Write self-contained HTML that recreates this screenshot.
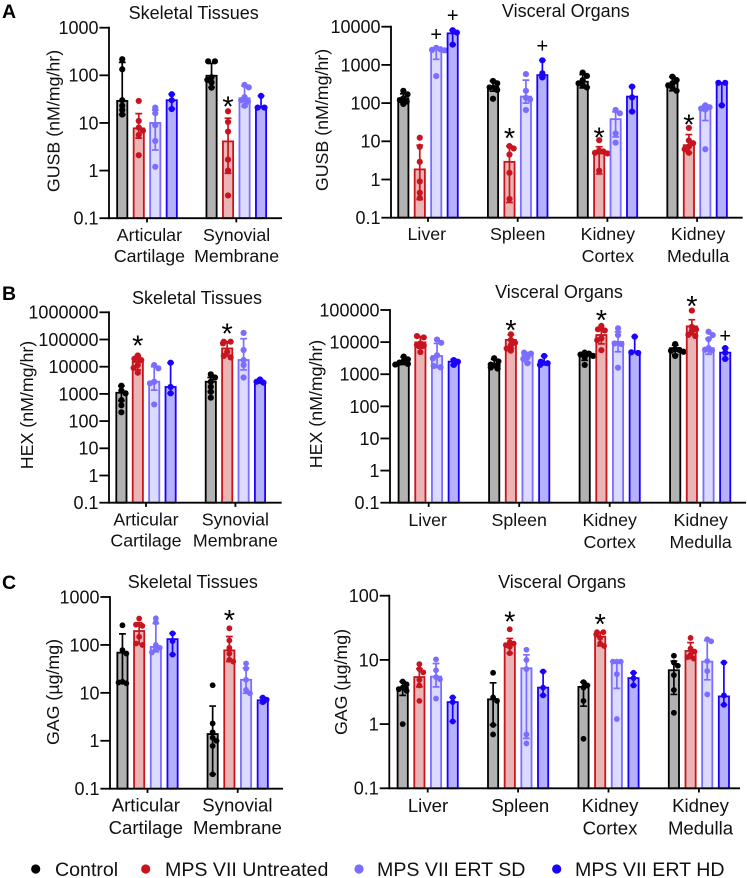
<!DOCTYPE html>
<html lang="en">
<head>
<meta charset="utf-8">
<title>GUSB, HEX and GAG levels by tissue</title>
<style>
html,body{margin:0;padding:0;background:#fff;}
svg{display:block;font-family:"Liberation Sans",Arial,sans-serif;fill:#111;}
</style>
</head>
<body>
<svg id="figure" width="747" height="878" viewBox="0 0 747 878" xmlns="http://www.w3.org/2000/svg">
  <text x="2" y="18" font-size="19.5" font-weight="bold" fill="#000">A</text>
  <text x="2" y="300" font-size="19.5" font-weight="bold" fill="#000">B</text>
  <text x="2" y="589" font-size="19.5" font-weight="bold" fill="#000">C</text>

  <text x="193.7" y="19" font-size="18" text-anchor="middle">Skeletal Tissues</text>
  <text x="565.8" y="17" font-size="18" text-anchor="middle">Visceral Organs</text>
  <text x="197" y="304" font-size="18" text-anchor="middle">Skeletal Tissues</text>
  <text x="559" y="298" font-size="18" text-anchor="middle">Visceral Organs</text>
  <text x="192.8" y="588" font-size="18" text-anchor="middle">Skeletal Tissues</text>
  <text x="562" y="588" font-size="18" text-anchor="middle">Visceral Organs</text>

  <text transform="translate(59.5,121) rotate(-90)" font-size="17.8" text-anchor="middle">GUSB (nM/mg/hr)</text>
  <text transform="translate(328,120) rotate(-90)" font-size="17.8" text-anchor="middle">GUSB (nM/mg/hr)</text>
  <text transform="translate(33,405) rotate(-90)" font-size="17.8" text-anchor="middle">HEX (nM/mg/hr)</text>
  <text transform="translate(322,404) rotate(-90)" font-size="17.8" text-anchor="middle">HEX (nM/mg/hr)</text>
  <text transform="translate(59,692) rotate(-90)" font-size="17.8" text-anchor="middle">GAG (µg/mg)</text>
  <text transform="translate(347,682) rotate(-90)" font-size="17.8" text-anchor="middle">GAG (µg/mg)</text>

  <g>
    <circle cx="35.7" cy="869" r="4.6" fill="#000"/>
    <text x="55" y="876" font-size="19.6">Control</text>
    <circle cx="145.7" cy="869" r="4.6" fill="#c8141e"/>
    <text x="165" y="876" font-size="19.6">MPS VII Untreated</text>
    <circle cx="359" cy="869" r="4.6" fill="#7a6dff"/>
    <text x="377" y="876" font-size="19.6">MPS VII ERT SD</text>
    <circle cx="556.7" cy="869" r="4.6" fill="#1a00ff"/>
    <text x="575" y="876" font-size="19.6">MPS VII ERT HD</text>
  </g>
</svg>
<script>
const skeletalCategories = [["Articular","Cartilage"],["Synovial","Membrane"]];
const visceralCategories = [["Liver"],["Spleen"],["Kidney","Cortex"],["Kidney","Medulla"]];
const seriesNames = ["control","untreated","ert-sd","ert-hd"];

const ticksA1 = ["0.1","1","10","100","1000"];
const ticksA2 = ["0.1","1","10","100","1000","10000"];
const ticksB1 = ["0.1","1","10","100","1000","10000","100000","1000000"];
const ticksB2 = ["0.1","1","10","100","1000","10000","100000"];
const ticksC1 = ["0.1","1","10","100","1000"];
const ticksC2 = ["0.1","1","10","100"];

/* A: GUSB skeletal */
const a1Means = [[29,7.7,10,30],[98,4.1,33,21.5]];
const a1High = [[187,15.7,18.6,40],[178,12.6,60,37]];
const a1Low = [[15,4.8,2.7,20],[56,0.88,22,21]];
const a1Dots = [
 [[218,134,30,23,18.7,15],[29,11,8,6.9,5.6,2.1],[21,16,9,4.2,1.2],[40,30,19.6]],
 [[197,197,91,80,71,55],[17.6,10.5,6.6,1.7,1,0.3],[63,56,35,30,28,23],[37,21,21]]
];
const a1Marks = [[1,1,"*",27]];

/* A: GUSB visceral */
const a2Means = [[133,1.84,2570,6700],[280,2.9,148,540],[363,4.8,38,148],[330,7.9,69,340]];
const a2High = [[175,7.9,2800,8100],[380,7.5,400,1320],[560,7.2,59,270],[490,15,87,340]];
const a2Low = [[105,0.3,1400,3400],[205,0.25,100,470],[250,1.4,13,60],[210,5,35,87]];
const a2Dots = [
 [[210,170,133,120,110,95],[12.4,7.2,2.9,0.89,0.45,0.33],[2800,2570,2470,2400,510],[8100,7000,3400]],
 [[380,330,257,245,220,130],[7.5,6.5,4.5,1.5,0.31],[575,210,138,125,66],[1320,600,470]],
 [[630,515,400,330,295,257],[10.7,5.7,5.4,5,4.8,1.7],[66,54,16,9.2],[270,141,60]],
 [[490,400,330,290,250,210],[22.4,10.5,8.9,7.3,6.2,5],[87,78,72,68,6.2],[340,340,87]]
];
const a2Marks = [[0,2,"+",6200],[0,3,"+",19500],[1,3,"+",3100],[1,1,"*",15.5],[2,1,"*",16],[3,1,"*",36]];

/* B: HEX skeletal */
const b1Means = [[1100,15000,2800,1800],[2800,47000,17600,2800]];
const b1High = [[1950,24500,10000,14000],[4000,83000,107000,3400]];
const b1Low = [[560,7600,1380,1050],[1200,25000,7600,2500]];
const b1Dots = [
 [[2000,1320,1050,590,380,210],[26000,19500,17500,11500,9000,6000],[11500,8700,2800,2450,410],[14000,1800,1050]],
 [[5250,4000,2800,1820,1200,725],[83000,83000,72000,35000,25000,22000],[174000,41000,17600,11500,4000],[3400,2800,2600]]
];
const b1Marks = [[0,1,"*",87000],[1,1,"*",240000]];

/* B: HEX visceral */
const b2Means = [[2570,9800,3700,2470],[2040,11700,4000,2340],[3730,16600,10200,5000],[6500,31000,6500,4700]];
const b2High = [[3400,15000,9100,2900],[2900,17000,4800,3700],[4800,26000,21000,14800],[8000,50000,13000,6500]];
const b2Low = [[2000,6500,1620,1900],[1600,6400,2300,1950],[2700,8800,5000,4700],[4100,17000,4200,3000]];
const b2Dots = [
 [[3550,2900,2570,2300,2100,2000],[15400,14000,9100,8100,7800,4900],[12000,9500,3900,3100,1800,1650],[2750,2450,1950]],
 [[3150,2500,2000,1900,1620,1500],[17500,11700,9500,8000,6300,5400],[4700,4400,3400,3000,2200],[3700,2450,2200,1950]],
 [[4700,4400,4100,3730,3400,1950],[32000,25000,23000,13000,11500,5600],[27000,16600,9100,8700,1600],[14800,4800,4600]],
 [[8700,6000,5700,5400,5000,3700],[96000,30000,25000,22000,17000,15500],[21000,16600,12300,6500,5800,5500],[6500,4700,3000]]
];
const b2Marks = [[1,1,"*",32000],[2,1,"*",66000],[3,1,"*",178000],[3,3,"+",15500]];

/* C: GAG skeletal */
const c1Means = [[69,195,91,132],[1.38,77,18.7,7]];
const c1High = [[170,290,280,174],[5.3,150,33,8]];
const c1Low = [[16,105,72,63],[0.2,45,9.8,6.2]];
const c1Dots = [
 [[257,78,66,17,16.5,15.8],[355,265,250,148,107,100],[360,295,100,87,81,70],[174,120,63]],
 [[14.4,2.3,1.5,1.16,1,0.78,0.2],[222,124,87,66,49,45],[41,32,18.7,11.5,9.8],[8,7.2,6.4]]
];
const c1Marks = [[1,1,"*",407]];

/* C: GAG visceral */
const c2Means = [[3.7,5.4,5.5,2.2],[2.43,18,7.4,3.7],[3.8,23,9.3,5.2],[6.9,13.8,9.4,2.7]];
const c2High = [[4.6,7.3,8.8,2.6],[4.4,21.6,12,6.6],[4.5,27,9.5,6.3],[9.6,18.6,20,9.1]];
const c2Low = [[2.8,3.8,3.8,1.1],[0.97,12.7,0.6,2.8],[1.9,16.5,3.6,4],[2.9,10.5,4.9,2]];
const c2Dots = [
 [[4.6,4.15,3.7,3.5,3.3,1],[8.6,7.2,6.4,4.9,4,2.3],[10.2,6.9,5.4,5,2.5],[2.6,2.2,1.1]],
 [[6.3,2.6,2.3,0.97,0.69],[30,19,18,17,16,12.7],[14.4,10,7.2,0.69,0.5],[6.6,3.7,2.8]],
 [[4.5,4,3.7,2.3,0.59],[27,27,25,22,18,16.5],[9.4,9.4,9.4,6,1.2],[6.3,5.2,4]],
 [[11.6,9.1,8.1,5.8,3.4,1.5],[22,15,13.5,12,11,10.5],[21,19.5,9.6,6.7,2.9],[9.1,2.8,2]]
];
const c2Marks = [[1,1,"*",46],[2,1,"*",42]];

const strokeColors = ["#000000","#c8141e","#7a6dff","#1a00ff"];
const fillColors = ["#b2b2b2","#ebb5b6","#dcdaff","#b5b1fb"];

const svg = document.getElementById('figure');
const NS = 'http://www.w3.org/2000/svg';

function shape(tag, parent, props) {
  const el = document.createElementNS(NS, tag);
  for (const key in props) el.setAttribute(key, props[key]);
  parent.appendChild(el);
  return el;
}

function swarm(values, yScale, radius) {
  const order = values.map((v, i) => i).sort((a, b) => yScale(values[a]) - yScale(values[b]));
  const placed = [];
  const offsets = new Array(values.length).fill(0);
  const spacing = radius * 1.35;
  let side = 1;
  order.forEach(i => {
    const y = yScale(values[i]);
    const free = x => placed.every(p => Math.hypot(p[0] - x, p[1] - y) >= radius * 1.2);
    let x = 0;
    for (let k = 0; k < 7; k++) {
      const mag = Math.ceil(k / 2) * spacing;
      const cand = (k % 2 ? 1 : -1) * side * mag;
      if (free(cand)) { x = cand; break; }
    }
    if (x !== 0) side = -side;
    placed.push([x, y]);
    offsets[i] = x;
  });
  /* a lone tied pair sits symmetrically about the bar centre */
  for (let n = 0; n + 1 < order.length; n++) {
    const a = order[n], b = order[n + 1];
    const close = (m, q) => Math.abs(yScale(values[m]) - yScale(values[q])) < radius * 0.5;
    const prevClose = n > 0 && close(order[n - 1], a);
    const nextClose = n + 2 < order.length && close(b, order[n + 2]);
    if (close(a, b) && !prevClose && !nextClose) {
      offsets[a] = -radius * 1.1;
      offsets[b] = radius * 1.1;
    }
  }
  return offsets;
}

function drawPanel(p) {
  const panel = shape('g', svg, {});
  
  

  const logMin = Math.log10(parseFloat(p.ticks[0]));
  const logMax = Math.log10(parseFloat(p.ticks[p.ticks.length - 1]));
  const yScale = v => p.bottom - (Math.log10(v) - logMin) / (logMax - logMin) * (p.bottom - p.top);
  const groupX = g => p.firstCenter + g * p.step;
  const barX = (g, s) => groupX(g) + (s - 1.5) * p.pitch;

  p.means.forEach((row, g) => {
    row.forEach((mean, s) => {
      const cx = barX(g, s);
      const top = yScale(mean);
      const bar = shape('rect', panel, {
        x: cx - 5.1, y: top, width: 10.2, height: p.bottom - top,
        fill: fillColors[s], stroke: strokeColors[s], 'stroke-width': 1.8
      });
      
      

      const yHi = yScale(p.high[g][s]);
      const yLo = yScale(p.low[g][s]);
      const err = shape('path', panel, {
        d: 'M' + cx + ' ' + yHi + 'V' + yLo + 'M' + (cx - 3.4) + ' ' + yHi + 'H' + (cx + 3.4) + 'M' + (cx - 3.4) + ' ' + yLo + 'H' + (cx + 3.4),
        fill: 'none', stroke: strokeColors[s], 'stroke-width': 1.7
      });
      
      

      const values = p.dots[g][s];
      const offs = swarm(values, yScale, p.radius);
      values.forEach((v, i) => {
        const dot = shape('circle', panel, {
          cx: cx + offs[i], cy: yScale(v), r: p.radius, fill: strokeColors[s]
        });
        
        
      });
    });
  });

  const yAxis = shape('line', panel, {
    x1: p.axisX, x2: p.axisX, y1: p.top - 0.9, y2: p.bottom + 0.9, stroke: '#000', 'stroke-width': 1.8
  });
  
  

  const xAxis = shape('line', panel, {
    x1: p.axisX, x2: p.right, y1: p.bottom, y2: p.bottom, stroke: '#000', 'stroke-width': 1.8
  });
  
  

  p.ticks.forEach(label => {
    const y = yScale(parseFloat(label));
    const tick = shape('line', panel, {
      x1: p.axisX - 9.6, x2: p.axisX, y1: y, y2: y, stroke: '#000', 'stroke-width': 1.8
    });
    
    

    const text = shape('text', panel, {
      x: p.axisX - 10.5, y: y + 6.4, 'font-size': 18, 'text-anchor': 'end'
    });
    text.textContent = label;
    
    
  });

  p.categories.forEach((lines, g) => {
    const cx = groupX(g);
    const tick = shape('line', panel, {
      x1: cx, x2: cx, y1: p.bottom, y2: p.bottom + 4.2, stroke: '#000', 'stroke-width': 1.8
    });
    
    

    lines.forEach((line, n) => {
      const text = shape('text', panel, {
        x: cx + p.labelShift[g], y: p.labelY + n * p.labelGap, 'font-size': p.labelSize, 'text-anchor': 'middle'
      });
      text.textContent = line;
      
      
    });
  });

  p.marks.forEach(m => {
    const isStar = m[2] === '*';
    const size = isStar ? 29 : 20;
    const text = shape('text', panel, {
      x: barX(m[0], m[1]), y: yScale(m[3]) + (isStar ? 0.49 : 0.33) * size,
      'font-size': size, 'text-anchor': 'middle', fill: '#000'
    });
    text.textContent = m[2];
    
    
  });
}

drawPanel({id:'a-skeletal', axisX:109, right:282, top:27.7, bottom:218.2, firstCenter:147, step:89.3, pitch:16.5,
  ticks:ticksA1, categories:skeletalCategories, means:a1Means, high:a1High, low:a1Low, dots:a1Dots, marks:a1Marks,
  radius:3.1, labelY:241, labelGap:21, labelSize:17.8, labelShift:[2.4,0.3]});
drawPanel({id:'a-visceral', axisX:391, right:742.7, top:26.7, bottom:217.7, firstCenter:428, step:89.7, pitch:16.45,
  ticks:ticksA2, categories:visceralCategories, means:a2Means, high:a2High, low:a2Low, dots:a2Dots, marks:a2Marks,
  radius:3.1, labelY:240, labelGap:22, labelSize:17.8, labelShift:[-1.2,0,0.4,1]});
drawPanel({id:'b-skeletal', axisX:109, right:281.7, top:312.3, bottom:502.7, firstCenter:146, step:89.4, pitch:16.4,
  ticks:ticksB1, categories:skeletalCategories, means:b1Means, high:b1High, low:b1Low, dots:b1Dots, marks:b1Marks,
  radius:3.1, labelY:525.7, labelGap:21, labelSize:17.8, labelShift:[0,0]});
drawPanel({id:'b-visceral', axisX:390, right:746, top:310, bottom:502.7, firstCenter:428.7, step:90.5, pitch:16.67,
  ticks:ticksB2, categories:visceralCategories, means:b2Means, high:b2High, low:b2Low, dots:b2Dots, marks:b2Marks,
  radius:3.1, labelY:526, labelGap:22, labelSize:17.8, labelShift:[-1,0,0,0.5]});
drawPanel({id:'c-skeletal', axisX:110, right:283, top:597, bottom:788.7, firstCenter:147.5, step:90.2, pitch:16.7,
  ticks:ticksC1, categories:skeletalCategories, means:c1Means, high:c1High, low:c1Low, dots:c1Dots, marks:c1Marks,
  radius:2.9, labelY:811.7, labelGap:22.5, labelSize:18.6, labelShift:[-1.7,-0.3]});
drawPanel({id:'c-visceral', axisX:389.3, right:740, top:595.7, bottom:788.3, firstCenter:427.7, step:90.4, pitch:16.67,
  ticks:ticksC2, categories:visceralCategories, means:c2Means, high:c2High, low:c2Low, dots:c2Dots, marks:c2Marks,
  radius:2.9, labelY:812, labelGap:22.5, labelSize:18.6, labelShift:[0.3,2.2,1.5,1.6]});
</script>
</body>
</html>
